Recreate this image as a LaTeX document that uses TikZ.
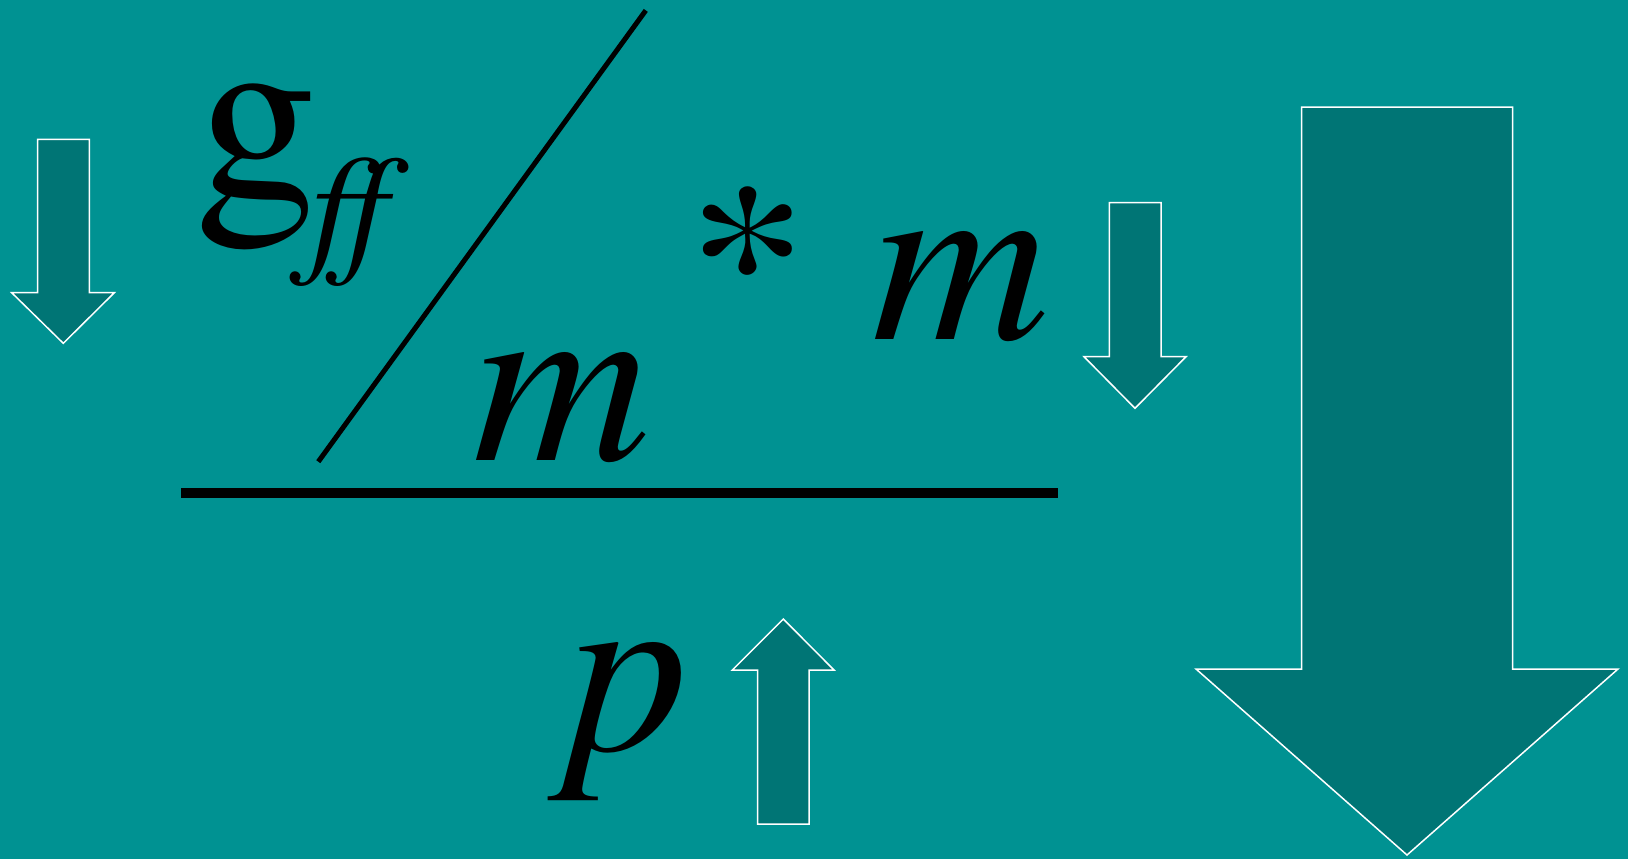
\documentclass[tikz,border=0pt]{standalone}
\usepackage{fontspec}
\setmainfont{texgyretermes}[Extension=.otf, UprightFont=*-regular, ItalicFont=*-italic, BoldFont=*-bold, BoldItalicFont=*-bolditalic]
\definecolor{bgteal}{RGB}{0,146,146}
\definecolor{arrteal}{RGB}{0,117,117}
\begin{document}
\begin{tikzpicture}[x=1pt,y=-1pt,
  blockarrow/.style={fill=arrteal,draw=white,line width=1.5pt,line join=miter},
  sym/.style={inner sep=0pt,anchor=base west,text=black},
  big/.style={font=\fontsize{245}{245}\selectfont},
  bigit/.style={font=\fontsize{245}{245}\selectfont\itshape},
  subit/.style={font=\fontsize{145}{145}\selectfont\itshape}]
\fill[bgteal] (0,0) rectangle (1628,859);
\useasboundingbox (0,0) rectangle (1628,859);
% block arrows
\draw[blockarrow] (37.7,139.3) -- (89.3,139.3) -- (89.3,292.7) -- (114.3,292.7) -- (63.3,343.3) -- (11.7,292.7) -- (37.7,292.7) -- cycle;
\draw[blockarrow] (1109.3,202.7) -- (1161,202.7) -- (1161,356.7) -- (1186,356.7) -- (1135,408.3) -- (1084,356.7) -- (1109.3,356.7) -- cycle;
\draw[blockarrow] (757.7,824) -- (809,824) -- (809,670) -- (834,670) -- (783.3,619) -- (732.3,670) -- (757.7,670) -- cycle;
\draw[blockarrow] (1301.7,107) -- (1512.7,107) -- (1512.7,669) -- (1618,669) -- (1407,855) -- (1196,669) -- (1301.7,669) -- cycle;
% formula
\node[sym,big] (g) at (195,196) {g};
\node[sym,subit] (ff) at (310,256) {ff};
\coordinate (slashA) at (318.3,461.7);
\coordinate (slashB) at (645.8,10.4);
\draw[line width=5pt] (slashA) -- (slashB);
\node[sym,bigit] (m1) at (473.7,460.6) {m};
\node[sym,big] (star) at (686.7,332) {\scalebox{1}[0.88]{*}};
\node[sym,bigit] (m2) at (872,339) {m};
\coordinate (barL) at (181,493);
\coordinate (barR) at (1058,493);
\draw[line width=10pt] (barL) -- (barR);
\node[sym,bigit] (p) at (566.7,750) {p};
\end{tikzpicture}
\end{document}
